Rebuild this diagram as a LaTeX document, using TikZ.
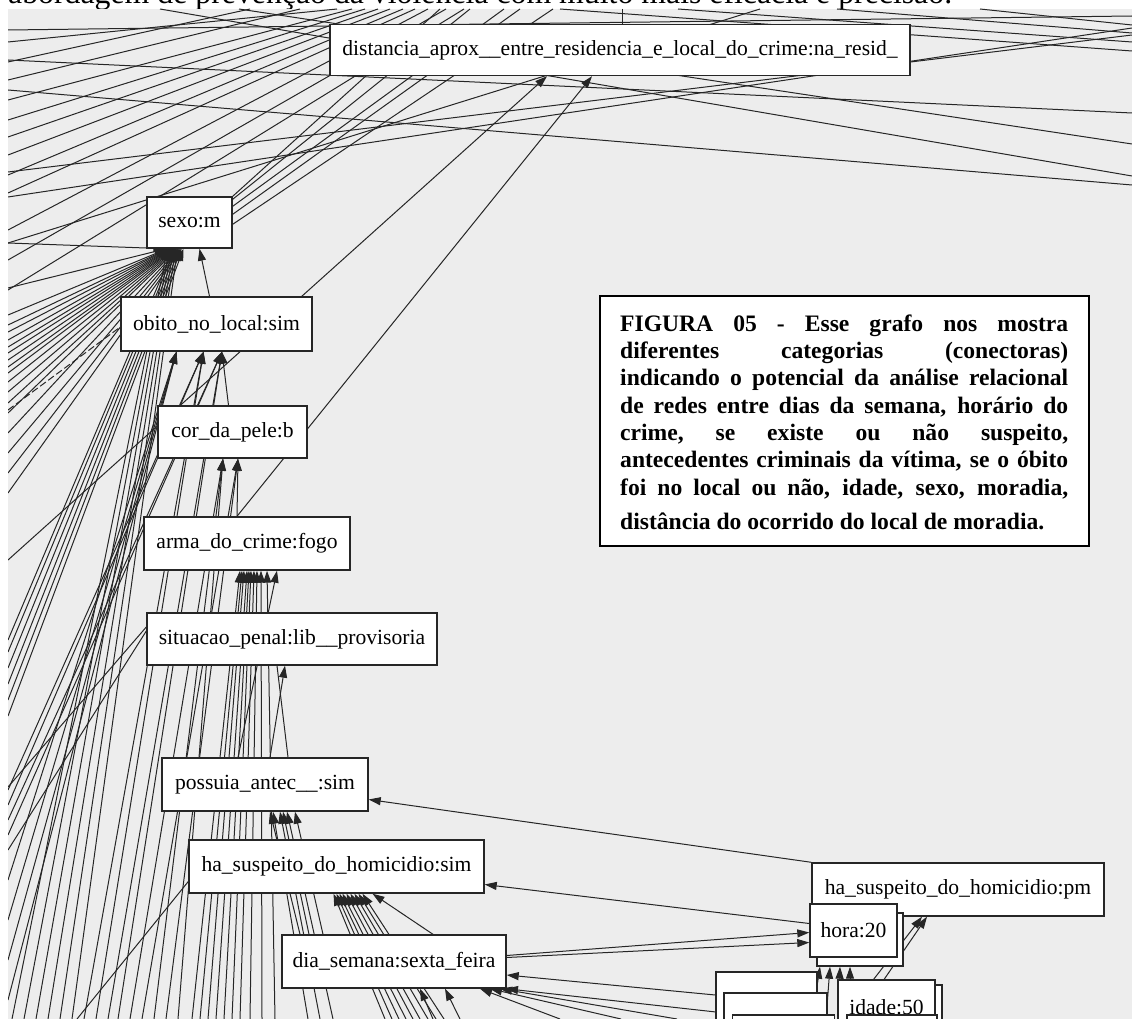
\documentclass[tikz,border=0pt]{standalone}
\usepackage{fontspec}
\setmainfont{Liberation Serif}
\usetikzlibrary{arrows.meta}
\pgfdeclarelayer{bg}
\pgfdeclarelayer{edges}
\pgfsetlayers{bg,edges,main}
\definecolor{paper}{HTML}{EDEDED}
\definecolor{ink}{HTML}{262626}
\tikzset{
  box/.style={draw=ink, line width=1.4pt, fill=white, inner sep=0pt,
    font=\fontsize{21.6}{24}\selectfont},
  e/.style={draw=ink, line width=1pt},
  ea/.style={e, -{Triangle[length=12pt,width=8pt]}},
  figbox/.style={draw=black, line width=1.7pt, fill=white, inner sep=0pt},
}
\newcommand{\jline}[1]{\leavevmode\hbox to 448pt{#1}}
\begin{document}
\begin{tikzpicture}[x=1pt,y=-1pt]
\useasboundingbox (0,0) rectangle (1132,1019);
\begin{pgfonlayer}{bg}
\fill[white] (0,0) rectangle (1132,1019);
\fill[paper] (8,9) rectangle (1132,1019);
\begin{scope}
\clip (0,0) rectangle (1132,9);
\node[anchor=base west, inner sep=0pt, font=\fontsize{31.8}{36}\selectfont] (toptext) at (8,3.5) {abordagem de prevenção da violência com muito mais eficácia e precisão.};
\end{scope}
\end{pgfonlayer}

% ---------- nodes ----------
\node[box, minimum width=580pt, minimum height=51pt] (dist) at (620,50) {distancia\_aprox\_\_entre\_residencia\_e\_local\_do\_crime:na\_resid\_};
\node[box, minimum width=85pt, minimum height=51pt] (sexo) at (189.5,222.5) {sexo:m};
\node[box, minimum width=191pt, minimum height=54pt] (obito) at (216.5,324) {obito\_no\_local:sim};
\node[box, minimum width=149pt, minimum height=52pt] (cor) at (232.5,432) {cor\_da\_pele:b};
\node[box, minimum width=206pt, minimum height=53pt] (arma) at (247,543.5) {arma\_do\_crime:fogo};
\node[box, minimum width=290pt, minimum height=52pt] (situ) at (292,639) {situacao\_penal:lib\_\_provisoria};
\node[box, minimum width=206pt, minimum height=53pt] (poss) at (265,784.5) {possuia\_antec\_\_:sim};
\node[box, minimum width=295pt, minimum height=53pt] (hasim) at (336.5,866.5) {ha\_suspeito\_do\_homicidio:sim};
\node[box, minimum width=224pt, minimum height=53pt] (dia) at (394,961.5) {dia\_semana:sexta\_feira};
\node[box, minimum width=292pt, minimum height=53pt] (hapm) at (958,889.5) {ha\_suspeito\_do\_homicidio:pm};
\node[box, minimum width=86pt, minimum height=53pt] (hora2) at (860,939.5) {};
\node[box, minimum width=87pt, minimum height=53pt] (hora) at (853.5,930.5) {hora:20};
\node[box, minimum width=101pt, minimum height=58pt] (b1) at (766.5,1001) {};
\node[box, minimum width=103pt, minimum height=57pt] (b2) at (775.5,1021.5) {};
\node[box, minimum width=102pt, minimum height=57pt] (b3) at (783.5,1043.5) {};
\node[box, minimum width=95pt, minimum height=55pt] (idb) at (894.5,1012.5) {};
\node[box, minimum width=97pt, minimum height=55pt] (idade) at (886.5,1007.5) {idade:50};
\node[box, minimum width=90pt, minimum height=55pt] (id3) at (892,1042.5) {};

% ---------- caption box ----------
\node[figbox, anchor=north west, minimum width=489pt, minimum height=250pt] (fig) at (599,295) {};
\node[anchor=north west, inner sep=0pt, text width=448pt, align=left,
  font=\fontsize{23.6}{27.3}\selectfont\bfseries] (figtext) at (620,314.5) {%
\spaceskip=0.25em plus 0.6em minus 0.12em\relax
\jline{FIGURA\hfill 05\hfill -\hfill Esse\hfill grafo\hfill nos\hfill mostra}\\
\jline{diferentes\hfill categorias\hfill (conectoras)}\\
\jline{indicando o potencial da análise relacional}\\
\jline{de redes entre dias da semana, horário do}\\
\jline{crime,\hfill se\hfill existe\hfill ou\hfill não\hfill suspeito,}\\
\jline{antecedentes criminais da vítima, se o óbito}\\
\jline{foi no local ou não, idade, sexo, moradia,}\\[6.7pt]
\leavevmode\hbox{distância do ocorrido do local de moradia.}};

% ---------- edges ----------
\begin{pgfonlayer}{edges}
\begin{scope}
\clip (8,9) rectangle (1132,1019);
% top crossing lines
\foreach \ax/\ay/\bx/\by [count=\i] in {
  8/197/1132/28, 8/172/1132/35, 239/9/1132/144, 8/60/1132/113, 8/90/1132/185,
  160/9/1132/176, 560/9/1132/51, 678/9/1132/42, 837/9/1132/33, 980/9/1132/25,
  8/42/337/9, 8/62/250/9, 8/80/300/9, 8/100/352/9, 8/120/365/9,
  8/137/378/9, 8/155/390/9, 8/175/403/9, 8/193/415/9, 8/230/428/9,
  8/260/446/9, 8/290/464/9, 8/243/760/9, 8/30/1132/16}{
  \coordinate (ta\i) at (\ax,\ay);
  \coordinate (tb\i) at (\bx,\by);
  \draw[e] (ta\i) -- (tb\i);
}
\coordinate (tv) at (622,9);
\draw[e] (tv) -- ([xshift=2pt]dist.north);
% sexo to top
\foreach \sh/\tx [count=\i] in {0/440, 3/470, 10/504, 18/520, 28/553}{
  \coordinate (st\i) at (\tx,9);
  \draw[e] ([yshift=-\sh pt]sexo.north east) -- (st\i);
}
% left edge -> sexo
\foreach \y [count=\i, evaluate=\i as \xs using -25+0.9*\i] in
  {243,288,315,325,332,340,347,353,360,367,373,382,392,403,413,433,453,473,493}{
  \coordinate (la\i) at (8,\y);
  \draw[ea] (la\i) -- ([xshift=\xs pt]sexo.south);
}
\foreach \y/\xs [count=\i] in {640/-16,652/-14,668/-12,684/-10,700/-8,716/-6}{
  \coordinate (lb\i) at (8,\y);
  \draw[ea] (lb\i) -- ([xshift=\xs pt]sexo.south);
}
\foreach \x/\xs [count=\i] in {12/-22,24/-20,36/-18,48/-16,60/-14,72/-12}{
  \coordinate (bs\i) at (\x,1019);
  \draw[ea] (bs\i) -- ([xshift=\xs pt]sexo.south);
}
% dashed to obito
\coordinate (ld) at (8,410);
\draw[e, dash pattern=on 7pt off 3pt] (ld) -- ([yshift=-3pt]obito.west);
% into obito
\foreach \x/\xs [count=\i] in {84/-13,96/-13,108/5.5,118/5.5}{
  \coordinate (bo\i) at (\x,1019);
  \draw[ea] (bo\i) -- ([xshift=\xs pt]obito.south);
}
\foreach \y/\xs [count=\i] in {790/-13,805/-13,820/5.5,835/5.5,880/-40,920/-40,960/-40,1000/-40}{
  \coordinate (lo\i) at (8,\y);
  \draw[ea] (lo\i) -- ([xshift=\xs pt]obito.south);
}
\draw[ea] ([xshift=-7pt]obito.north) -- ([xshift=10pt]sexo.south);
\draw[ea] ([xshift=-4pt]cor.north) -- ([xshift=5.5pt]obito.south);
% into cor
\foreach \x/\xs [count=\i] in {130/-9.5,142/5.5,154/-9.5,166/5.5,178/-9.5}{
  \coordinate (bc\i) at (\x,1019);
  \draw[ea] (bc\i) -- ([xshift=\xs pt]cor.south);
}
\draw[ea] ([xshift=-10pt]arma.north) -- ([xshift=5.5pt]cor.south);
% into arma
\foreach \x/\xs [count=\i] in {192/-7,200/-5,208/-3,216/0,224/2,232/4,240/7,250/10,262/14,275/20}{
  \coordinate (ba\i) at (\x,1019);
  \draw[ea] (ba\i) -- ([xshift=\xs pt]arma.south);
}
\draw[ea] ([xshift=-27pt]poss.north) -- ([xshift=30pt]arma.south);
% into situacao
\draw[ea] ([xshift=5pt]poss.north) -- ([xshift=-7pt]situ.south);
\draw[e] ([xshift=23pt]poss.north) -- ([xshift=-15pt]situ.south);
\foreach \y/\sh [count=\i] in {787/12,850/8}{
  \coordinate (ls\i) at (8,\y);
  \draw[e] (ls\i) -- ([yshift=\sh pt]situ.west);
}
% into possuia
\draw[ea] ([xshift=-94pt]dia.north) -- ([xshift=5pt]poss.south);
\draw[ea] ([xshift=-85pt]dia.north) -- ([xshift=18pt]poss.south);
\draw[ea] ([xshift=-71pt]dia.north) -- ([xshift=30pt]poss.south);
\foreach \x/\xs [count=\i] in {308/8,320/15,333/22}{
  \coordinate (bq\i) at (\x,1019);
  \draw[ea] (bq\i) -- ([xshift=\xs pt]poss.south);
}
\draw[ea] (hapm.north west) -- ([yshift=-15pt]poss.east);
% into ha_suspeito sim
\foreach \x/\xs [count=\i] in {385/-3,392/0,399/3,406/6,413/10,420/14,428/18,436/22,444/26}{
  \coordinate (bh\i) at (\x,1019);
  \draw[ea] (bh\i) -- ([xshift=\xs pt]hasim.south);
}
\draw[ea] ([xshift=39pt]dia.north) -- ([xshift=36pt]hasim.south);
\draw[ea] ([yshift=7pt]hora.west) -- ([yshift=-18pt]hasim.east);
\coordinate (bw) at (77,1019);
\draw[e] (bw) -- ([yshift=-15pt]hasim.west);
% dia -> hora
\draw[ea] ([yshift=6pt]dia.east) -- ([yshift=-2pt]hora.west);
\draw[ea] ([yshift=4pt]dia.east) -- ([yshift=-12pt]hora.west);
% into dia
\draw[ea] ([yshift=6pt]b1.west) -- ([yshift=-13.5pt]dia.east);
\foreach \x/\y/\xs [count=\i] in {433/1019/26, 460/1019/51, 560/1019/86, 621/1019/96, 677/1019/106, 716/1012/112}{
  \coordinate (bd\i) at (\x,\y);
  \draw[ea] (bd\i) -- ([xshift=\xs pt]dia.south);
}
% cluster -> hora / ha_pm
\foreach \x/\xs [count=\i] in {812/-40,826/-30,838/-20,850/-10}{
  \coordinate (bk\i) at (\x,1019);
  \draw[ea] (bk\i) -- ([xshift=\xs pt]hora2.south);
}
\foreach \x/\xs [count=\i] in {843/-36,857/-31}{
  \coordinate (bp\i) at (\x,1019);
  \draw[ea] (bp\i) -- ([xshift=\xs pt]hapm.south);
}
% long edges to distancia
\draw[ea] ([xshift=-10pt]arma.north) -- ([xshift=-28pt]dist.south);
\coordinate (lc) at (8,560);
\draw[ea] (lc) -- ([xshift=-73pt]dist.south);
\end{scope}
\end{pgfonlayer}
\end{tikzpicture}
\end{document}
